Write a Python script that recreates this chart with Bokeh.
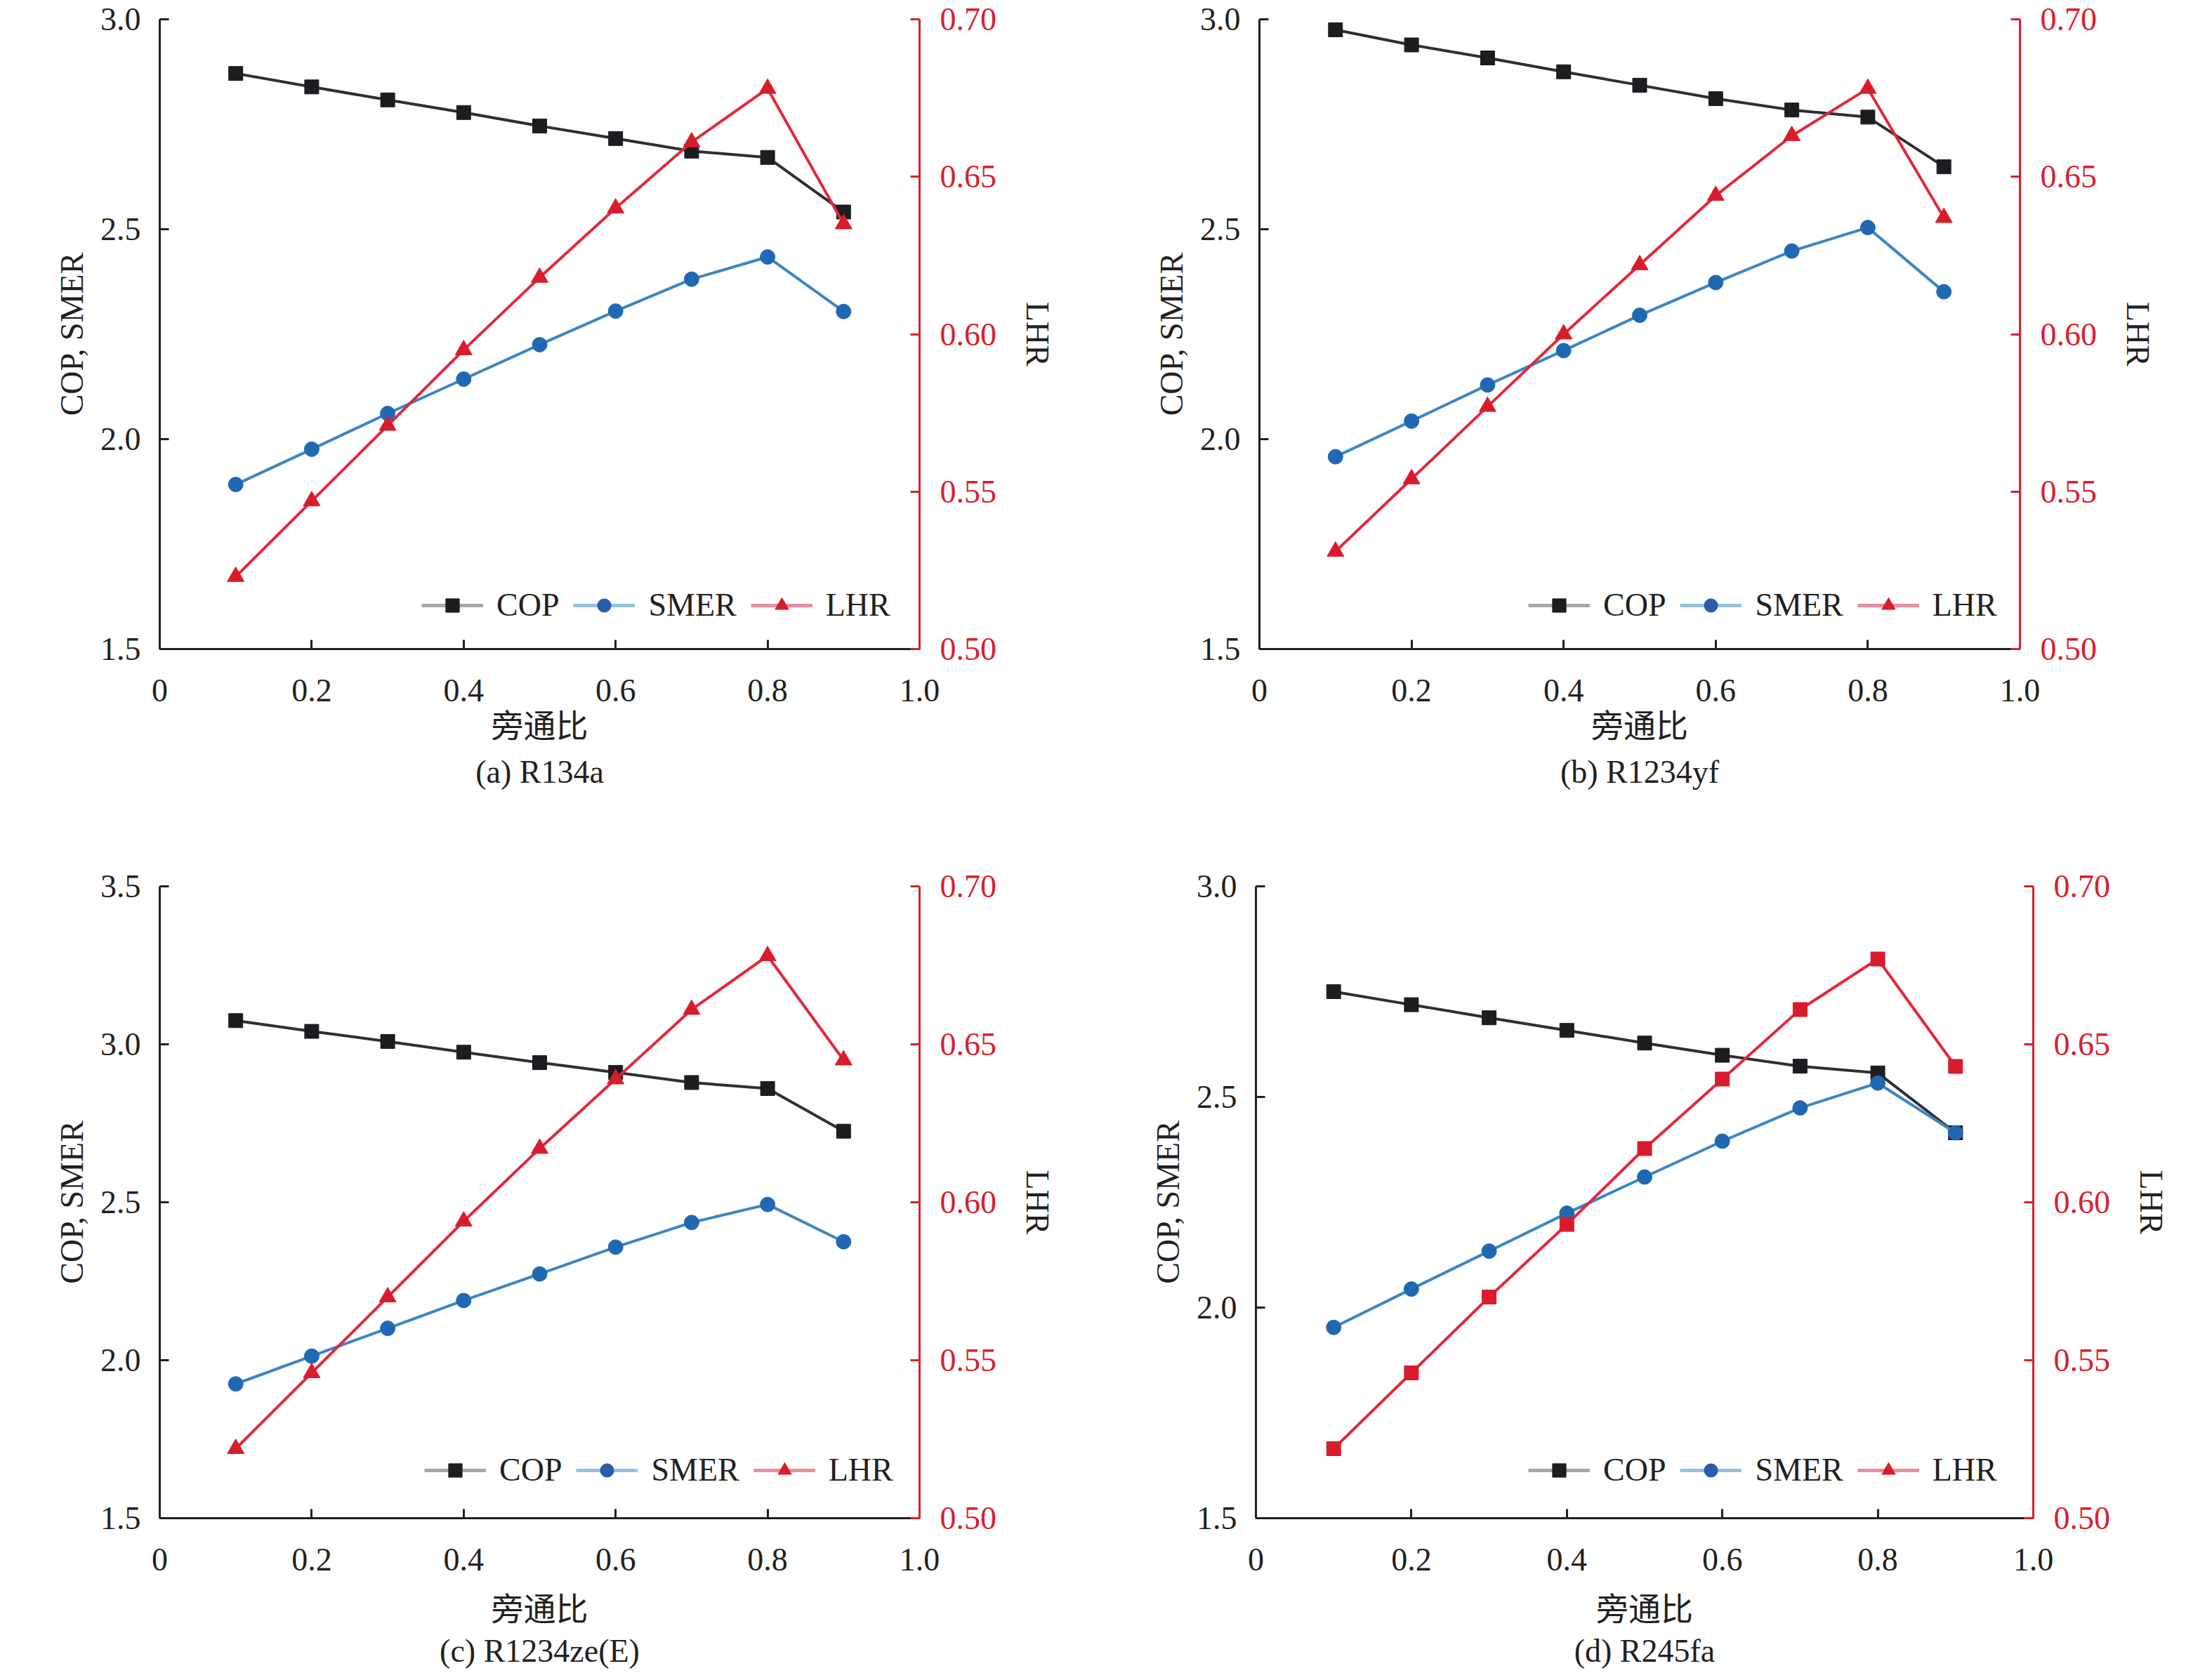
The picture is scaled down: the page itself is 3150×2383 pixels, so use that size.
import numpy as np
from bokeh.plotting import figure
from bokeh.models import (Range1d, LinearAxis, FixedTicker, Legend, LegendItem,
                          Title, PrintfTickFormatter)
from bokeh.layouts import row, column
from bokeh.embed import file_html
from bokeh.resources import INLINE

# ---------------- data ----------------
bypass_ratio = [0.1, 0.2, 0.3, 0.4, 0.5, 0.6, 0.7, 0.8, 0.9]
x_ticks = [0, 0.2, 0.4, 0.6, 0.8, 1.0]
x_tick_labels = ["0", "0.2", "0.4", "0.6", "0.8", "1.0"]
lhr_ticks = [0.50, 0.55, 0.60, 0.65, 0.70]

cop_a = [2.871, 2.839, 2.808, 2.778, 2.746, 2.716, 2.686, 2.671, 2.541]
smer_a = [1.892, 1.976, 2.061, 2.143, 2.225, 2.305, 2.381, 2.434, 2.304]
lhr_a = [0.523, 0.547, 0.571, 0.595, 0.618, 0.640, 0.661, 0.678, 0.635]

cop_b = [2.975, 2.939, 2.908, 2.875, 2.843, 2.811, 2.784, 2.767, 2.649]
smer_b = [1.958, 2.043, 2.129, 2.211, 2.295, 2.373, 2.448, 2.504, 2.351]
lhr_b = [0.531, 0.554, 0.577, 0.600, 0.622, 0.644, 0.663, 0.678, 0.637]

cop_c = [3.075, 3.041, 3.009, 2.975, 2.942, 2.911, 2.879, 2.860, 2.725]
smer_c = [1.925, 2.013, 2.101, 2.189, 2.273, 2.358, 2.436, 2.493, 2.375]
lhr_c = [0.522, 0.546, 0.570, 0.594, 0.617, 0.639, 0.661, 0.678, 0.645]

cop_d = [2.750, 2.719, 2.688, 2.658, 2.628, 2.599, 2.573, 2.557, 2.415]
smer_d = [1.953, 2.044, 2.134, 2.224, 2.310, 2.395, 2.474, 2.533, 2.415]
lhr_d = [0.522, 0.546, 0.570, 0.593, 0.617, 0.639, 0.661, 0.677, 0.643]

captions = ["(a) R134a", "(b) R1234yf", "(c) R1234ze(E)", "(d) R245fa"]
y_label = "COP, SMER"
x_label = "旁通比"
r_label = "LHR"
series_names = ["COP", "SMER", "LHR"]

# ---------------- style ----------------
BLACK = "#231f20"
RED = "#d9202c"
SERIF = "Liberation Serif"
CJK = "Noto Sans CJK SC"
FS = "46px"

COP_LINE, COP_MARK = "#2e2f31", "#1c1d20"
SMER_LINE, SMER_MARK = "#3a86c4", "#2069b2"
LHR_LINE, LHR_MARK = "#e1283c", "#d91c2b"
LEG_LINES = ["#a7a7a7", "#92c3e3", "#ec8c9d"]
LEG_MARKS = [COP_MARK, "#2b5caa", LHR_MARK]


def style_axis(ax, color, label_color):
    ax.axis_line_color = color
    ax.axis_line_width = 3
    ax.major_tick_line_color = color
    ax.major_tick_line_width = 3
    ax.major_tick_in = 13
    ax.major_tick_out = 0
    ax.minor_tick_line_color = None
    ax.major_label_text_font = SERIF
    ax.major_label_text_font_size = FS
    ax.major_label_text_color = label_color
    ax.axis_label_text_font = SERIF
    ax.axis_label_text_font_size = FS
    ax.axis_label_text_font_style = "normal"
    ax.axis_label_text_color = BLACK


def make_panel(caption, cop, smer, lhr, yr, yticks, lhr_marker, W, H,
               bl, br, bt, bb, leg_xy, xl_standoff, cap_standoff):
    p = figure(width=W, height=H, x_range=Range1d(0, 1.0),
               y_range=Range1d(yr[0], yr[1]), output_backend="svg",
               toolbar_location=None, min_border_left=bl, min_border_right=br,
               min_border_top=bt, min_border_bottom=bb)
    p.grid.visible = False
    p.outline_line_color = None
    p.background_fill_color = "white"
    p.border_fill_color = "white"

    p.extra_y_ranges = {"lhr": Range1d(0.50, 0.70)}

    xa = p.xaxis[0]
    xa.ticker = FixedTicker(ticks=x_ticks)
    xa.major_label_overrides = {t: s for t, s in zip(x_ticks, x_tick_labels)}
    style_axis(xa, BLACK, BLACK)
    xa.major_label_standoff = 43
    xa.axis_label = x_label
    xa.axis_label_text_font = CJK
    xa.axis_label_standoff = xl_standoff

    ya = p.yaxis[0]
    ya.ticker = FixedTicker(ticks=yticks)
    ya.formatter = PrintfTickFormatter(format="%.1f")
    style_axis(ya, BLACK, BLACK)
    ya.major_label_standoff = 27
    ya.axis_label = y_label
    ya.axis_label_standoff = 12

    ra = LinearAxis(y_range_name="lhr", ticker=FixedTicker(ticks=lhr_ticks),
                    formatter=PrintfTickFormatter(format="%.2f"),
                    axis_label=r_label)
    style_axis(ra, RED, RED)
    ra.major_label_standoff = 29
    ra.axis_label_standoff = 30
    p.add_layout(ra, "right")

    # data
    p.line(bypass_ratio, cop, line_color=COP_LINE, line_width=4)
    p.scatter(bypass_ratio, cop, marker="square", size=20,
              fill_color=COP_MARK, line_color=COP_MARK)
    p.line(bypass_ratio, smer, line_color=SMER_LINE, line_width=4)
    p.scatter(bypass_ratio, smer, marker="circle", size=21,
              fill_color=SMER_MARK, line_color=SMER_MARK)
    p.line(bypass_ratio, lhr, line_color=LHR_LINE, line_width=4,
           y_range_name="lhr")
    p.scatter(bypass_ratio, lhr, marker=lhr_marker,
              size=24 if lhr_marker == "triangle" else 20,
              fill_color=LHR_MARK, line_color=LHR_MARK, y_range_name="lhr")

    # legend (own sample glyphs, lighter line as in the original)
    items = []
    for name, lc, mc, mk in zip(series_names, LEG_LINES, LEG_MARKS,
                                ["square", "circle", "triangle"]):
        r1 = p.line(np.array([np.nan]), np.array([np.nan]), line_color=lc,
                    line_width=5)
        r2 = p.scatter(np.array([np.nan]), np.array([np.nan]), marker=mk,
                       fill_color=mc, line_color=mc)
        items.append(LegendItem(label=name, renderers=[r1, r2]))
    leg = Legend(items=items, location=leg_xy, orientation="horizontal",
                 border_line_color=None, background_fill_alpha=0,
                 padding=0, margin=0, spacing=20, label_standoff=19,
                 glyph_width=88, glyph_height=48, label_height=48,
                 label_text_font=SERIF, label_text_font_size=FS,
                 label_text_color=BLACK)
    p.add_layout(leg)

    t = Title(text=caption, align="center", text_font=SERIF,
              text_font_size=FS, text_font_style="normal", text_color=BLACK,
              standoff=cap_standoff, offset=0)
    p.add_layout(t, "below")
    return p


pa = make_panel(captions[0], cop_a, smer_a, lhr_a, (1.5, 3.0),
                [1.5, 2.0, 2.5, 3.0], "triangle", 1575, 1190,
                227, 266, 27, 266, (373, 36), -5, 12)
pb = make_panel(captions[1], cop_b, smer_b, lhr_b, (1.5, 3.0),
                [1.5, 2.0, 2.5, 3.0], "triangle", 1575, 1190,
                218, 274, 27, 266, (383, 36), -5, 12)
pc = make_panel(captions[2], cop_c, smer_c, lhr_c, (1.5, 3.5),
                [1.5, 2.0, 2.5, 3.0, 3.5], "triangle", 1575, 1193,
                227, 266, 72, 221, (377, 42), 15, 0)
pd = make_panel(captions[3], cop_d, smer_d, lhr_d, (1.5, 3.0),
                [1.5, 2.0, 2.5, 3.0], "square", 1575, 1193,
                213, 255, 66, 221, (388, 42), 15, 0)

layout = column(row(pa, pb), row(pc, pd))
open("out.html", "w").write(file_html(layout, INLINE))
